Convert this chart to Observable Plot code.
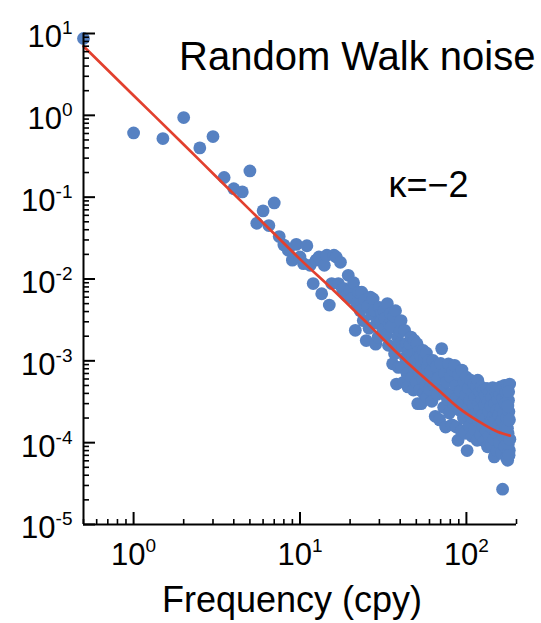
<!DOCTYPE html>
<html>
<head>
<meta charset="utf-8">
<script src="https://cdn.jsdelivr.net/npm/d3@7"></script>
<script src="https://cdn.jsdelivr.net/npm/@observablehq/plot@0.6"></script>
<style>
  html, body { margin: 0; padding: 0; background: #fff; }
</style>
</head>
<body>
<div id="chart"></div>
<script>
// ---- Data ----
// Periodogram points (frequency in cpy, power)
const freqA = [0.5,1,1.5,2,2.5,3,3.5,4,4.5,5,5.5,6,6.5,7,7.5,8,8.5,9,9.5,10,
  10.5,11,11.5,12,12.5,13,13.5,14,14.5,15,15.5,16,16.5,17,17.5,18,18.5,19,19.5,20];
const powerA = [8.7,0.61,0.52,0.94,0.40,0.55,0.174,0.127,0.116,0.209,0.048,0.068,0.045,0.085,0.033,0.026,0.0224,0.017,0.0265,0.0186,
  0.0154,0.0255,0.0147,0.0088,0.0170,0.0186,0.0066,0.0147,0.0195,0.0048,0.0088,0.0195,0.0186,0.0088,0.0160,0.0075,0.0076,0.0063,0.0111,0.0073];

const freqB = [20.5,21,21.5,22,22.5,23,23.5,24,24.5,25,25.5,26,26.5,27,27.5,28,28.5,29,29.5,30,
  30.5,31,31.5,32,32.5,33,33.5,34,34.5,35,35.5,36,36.5,37,37.5,38,38.5,39,39.5,40];
const powerB = [0.0058,0.0090,0.00236,0.0050,0.0069,0.0041,0.0069,0.0031,0.0055,0.00177,0.0046,0.0025,0.0060,0.0037,0.0057,0.0041,0.0016,0.0029,0.00195,0.0045,
  0.0030,0.0039,0.0024,0.0041,0.0033,0.0021,0.0050,0.00155,0.0028,0.0038,0.0026,0.00092,0.0035,0.00122,0.0041,0.00052,0.00195,0.00083,0.0016,0.0023];

const freqC = [40.5,41,41.5,42,42.5,43,43.5,44,44.5,45,45.5,46,46.5,47,47.5,48,48.5,49,49.5,50,
  50.5,51,51.5,52,52.5,53,53.5,54,54.5,55,55.5,56,56.5,57,57.5,58,58.5,59,59.5,60];
const powerC = [0.0031,0.00084,0.0015,0.00055,0.00236,0.0011,0.00162,0.00070,0.00048,0.00134,0.00095,0.0016,0.00195,0.00062,0.0012,0.00044,0.00178,0.00080,0.0010,0.00055,
  0.00162,0.00030,0.0013,0.00070,0.00044,0.00115,0.00030,0.00090,0.00060,0.00134,0.00040,0.00105,0.00075,0.00050,0.00125,0.00036,0.00085,0.00062,0.00101,0.00045];

const freqD = [61,62,63,64,65,66,67,68,69,70,71,72,73,74,75,76,77,78,79,80,
  81,82,83,84,85,86,87,88,89,90,91,92,93,94,95,96,97,98,99,100,
  101,102,103,104,105,106,107,108,109,110,111,112,113,114,115,116,117,118,119,120,
  121,122,123,124,125,126,127,128,129,130,131,132,133,134,135,136,137,138,139,140,
  141,142,143,144,145,146,147,148,149,150,151,152,153,154,155,156,157,158,159,160,
  161,162,163,164,165,166,167,168,169,170,171,172,173,174,175,176,177,178,179,180,
  181,182,176.5,177.5,178.5,179.5,180.5,181.5,182.5];
const powerD = [7.5e-4,3.2e-4,1.01e-3,5.0e-4,2.1e-4,8.5e-4,3.9e-4,6.2e-4,1.9e-4,9.3e-4,
  1.41e-3,4.5e-4,2.7e-4,7.0e-4,1.55e-4,5.5e-4,3.4e-4,9.2e-4,2.3e-4,6.4e-4,
  4.0e-4,1.65e-4,7.6e-4,2.9e-4,8.8e-4,5.0e-4,1.55e-4,3.5e-4,1.07e-4,6.8e-4,
  2.5e-4,4.3e-4,1.4e-4,7.7e-4,3.1e-4,2.0e-4,5.5e-4,1.3e-4,3.8e-4,6.3e-4,
  8.0e-5,2.6e-4,4.6e-4,1.6e-4,3.3e-4,5.8e-4,2.06e-4,1.2e-4,4.0e-4,2.9e-4,
  5.2e-4,1.45e-4,3.6e-4,2.3e-4,4.9e-4,1.07e-4,5.8e-4,3.0e-4,1.8e-4,4.2e-4,
  2.5e-4,1.25e-4,4.8e-4,3.4e-4,1.6e-4,2.2e-4,4.4e-4,1.05e-4,2.9e-4,3.8e-4,
  1.4e-4,2.0e-4,4.6e-4,8.9e-5,3.2e-4,2.4e-4,1.2e-4,4.1e-4,1.75e-4,2.8e-4,
  9.5e-5,3.6e-4,1.5e-4,4.7e-4,2.1e-4,1.1e-4,6.7e-5,3.0e-4,1.85e-4,4.2e-4,
  1.3e-4,2.5e-4,8.0e-5,4.4e-4,3.4e-4,1.6e-4,2.2e-4,1.0e-4,3.9e-4,4.8e-4,
  1.4e-4,2.7e-4,7.5e-5,1.9e-4,2.7e-5,3.5e-4,1.2e-4,2.3e-4,5.0e-4,9.0e-5,
  3.0e-4,1.6e-4,4.1e-4,6.5e-5,2.0e-4,5.0e-4,6.1e-5,1.3e-4,3.3e-4,2.4e-4,
  8.1e-5,5.2e-4,1.5e-4,2.8e-4,9.5e-5,4.2e-4,7.0e-5,1.9e-4,1.1e-4];

// Fitted model curve (red)
const curveFreq = [0.5,1,2,3,5,7,10,16,25.5,37,51,67,89,117,154,182.5];
const curvePower = [7.0,1.75,0.44,0.195,0.070,0.0357,0.0175,0.0072,0.00285,0.00134,7.3e-4,4.5e-4,2.7e-4,1.85e-4,1.36e-4,1.22e-4];

// Axes
const xDomain = [0.5, 200];
const yDomain = [1e-5, 10];
const xMajorTicks = [1, 10, 100];
const yMajorTicks = [1e-5, 1e-4, 1e-3, 1e-2, 1e-1, 1, 10];

// Texts
const titleText = "Random Walk noise";
const kappaText = "κ=−2";
const xLabelText = "Frequency (cpy)";

// Colours
const dotColor = "#5681C2";
const lineColor = "#E2402E";

// ---- Build ----
const points = [
  ...freqA.map((f, i) => ({f, p: powerA[i]})),
  ...freqB.map((f, i) => ({f, p: powerB[i]})),
  ...freqC.map((f, i) => ({f, p: powerC[i]})),
  ...freqD.map((f, i) => ({f, p: powerD[i]}))
];
const curve = curveFreq.map((f, i) => ({f, p: curvePower[i]}));

const isMajor = (list) => (v) => list.some((m) => Math.abs(Math.log10(v) - Math.log10(m)) < 1e-6);
const xMinor = d3.scaleLog().domain(xDomain).ticks().filter((v) => !isMajor(xMajorTicks)(v));
const yMinor = d3.scaleLog().domain(yDomain).ticks().filter((v) => !isMajor(yMajorTicks)(v));
const fmt = (d) => "10^" + Math.round(Math.log10(d));

const chart = Plot.plot({
  width: 541,
  height: 623,
  marginLeft: 83,
  marginRight: 25,
  marginTop: 33,
  marginBottom: 99,
  style: {
    fontFamily: '"Liberation Sans", Arial, Helvetica, sans-serif',
    background: "#fff",
    color: "#000",
    overflow: "visible"
  },
  x: {type: "log", domain: xDomain},
  y: {type: "log", domain: yDomain},
  marks: [
    Plot.dot(points, {x: "f", y: "p", r: 6.4, fill: dotColor, stroke: null}),
    Plot.line(curve, {x: "f", y: "p", stroke: lineColor, strokeWidth: 2.7, curve: "monotone-x"}),
    Plot.ruleX([xDomain[0]], {stroke: "#000", strokeWidth: 2}),
    Plot.ruleY([yDomain[0]], {stroke: "#000", strokeWidth: 2}),
    Plot.axisX({ticks: xMinor, tickSize: 5, dy: -5, fill: "none", stroke: "#000", strokeWidth: 1.6, label: null}),
    Plot.axisX({ticks: xMajorTicks, tickSize: 12, dy: -12, fill: "none", stroke: "#000", strokeWidth: 2, label: null}),
    Plot.axisX({ticks: xMajorTicks, tickSize: 0, tickPadding: 18, tickFormat: fmt, fontSize: 31, label: null}),
    Plot.axisY({ticks: yMinor, tickSize: 6, dx: 6, fill: "none", stroke: "#000", strokeWidth: 1.6, label: null}),
    Plot.axisY({ticks: yMajorTicks, tickSize: 12, dx: 12, fill: "none", stroke: "#000", strokeWidth: 2, label: null}),
    Plot.axisY({ticks: yMajorTicks, tickSize: 0, tickPadding: 11, dy: 4, tickFormat: fmt, fontSize: 31, label: null}),
    Plot.text([titleText], {text: (d) => d, ariaLabel: "title", frameAnchor: "top-right", textAnchor: "end", lineAnchor: "middle", dx: 19, dy: 24, fontSize: 40, fill: "#000"}),
    Plot.text([kappaText], {text: (d) => d, frameAnchor: "top-left", textAnchor: "start", lineAnchor: "middle", dx: 305, dy: 152, fontSize: 36, fill: "#000"}),
    Plot.text([xLabelText], {text: (d) => d, frameAnchor: "bottom", textAnchor: "middle", lineAnchor: "middle", dx: -8, dy: 76, fontSize: 36, fill: "#000"})
  ]
});

// Turn "10^n" tick labels into 10 with a raised exponent
const ns = "http://www.w3.org/2000/svg";
chart.querySelectorAll('g[aria-label="x-axis tick label"] text, g[aria-label="y-axis tick label"] text').forEach((t) => {
  const m = t.textContent.match(/^10\^(-?\d+)$/);
  if (!m) return;
  t.textContent = "";
  const base = document.createElementNS(ns, "tspan");
  base.textContent = "10";
  t.appendChild(base);
  const sup = document.createElementNS(ns, "tspan");
  sup.textContent = m[1];
  sup.setAttribute("dy", "-13");
  sup.setAttribute("font-size", "19");
  t.appendChild(sup);
});

// Slightly wider title, as in the reference
chart.querySelectorAll('g[aria-label="title"] text').forEach((t) => {
  t.setAttribute("textLength", "368");
  t.setAttribute("lengthAdjust", "spacingAndGlyphs");
});

document.getElementById("chart").append(chart);
</script>
</body>
</html>
